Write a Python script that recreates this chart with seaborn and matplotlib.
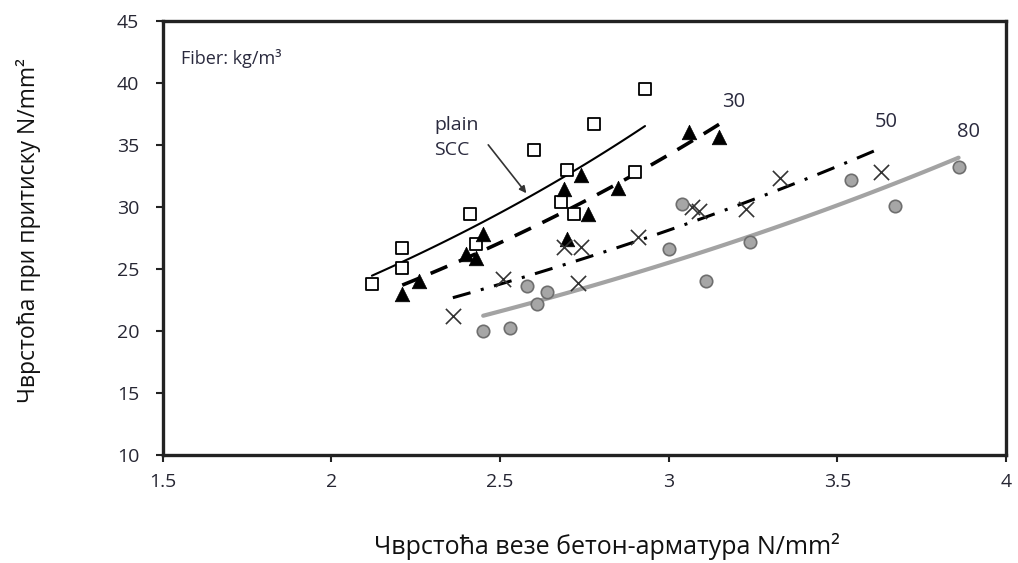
import numpy as np
import pandas as pd
import seaborn as sns
import matplotlib.pyplot as plt

# bond strength (x) vs compressive strength (y)
plain_x = [2.12, 2.21, 2.21, 2.41, 2.43, 2.60, 2.68, 2.70, 2.72, 2.78, 2.90, 2.93]
plain_y = [23.8, 26.7, 25.1, 29.4, 27.0, 34.6, 30.4, 33.0, 29.4, 36.7, 32.8, 39.5]

f30_x = [2.21, 2.26, 2.40, 2.43, 2.45, 2.69, 2.70, 2.74, 2.76, 2.85, 3.06, 3.15]
f30_y = [23.0, 24.0, 26.2, 25.9, 27.8, 31.4, 27.4, 32.6, 29.4, 31.5, 36.0, 35.6]

f50_x = [2.36, 2.51, 2.69, 2.74, 2.73, 2.91, 3.07, 3.09, 3.23, 3.33, 3.63]
f50_y = [21.2, 24.2, 26.8, 26.8, 23.9, 27.6, 30.0, 29.7, 29.8, 32.3, 32.8]

f80_x = [2.45, 2.53, 2.58, 2.61, 2.64, 3.00, 3.04, 3.11, 3.24, 3.54, 3.67, 3.86]
f80_y = [20.0, 20.2, 23.6, 22.2, 23.1, 26.6, 30.2, 24.0, 27.2, 32.2, 30.1, 33.2]

x_ticks = [1.5, 2, 2.5, 3, 3.5, 4]
x_tick_labels = ["1.5", "2", "2.5", "3", "3.5", "4"]
y_ticks = [10, 15, 20, 25, 30, 35, 40, 45]

sns.set_theme(style="ticks")
plt.rcParams['font.family'] = ['Open Sans', 'DejaVu Sans']

fig = plt.figure(figsize=(10.18, 5.63), dpi=100)
ax = fig.add_axes([0.160, 0.192, 0.828, 0.771])


def exp_trend(xs, ys, n=60):
    # Excel-style exponential trendline over the data range
    b, a = np.polyfit(xs, np.log(ys), 1)
    xx = np.linspace(min(xs), max(xs), n)
    return pd.DataFrame({"x": xx, "y": np.exp(a) * np.exp(b * xx)})


# trend lines
t = exp_trend(plain_x, plain_y)
sns.lineplot(data=t, x="x", y="y", ax=ax, color="black", linewidth=1.5)
t = exp_trend(f30_x, f30_y)
sns.lineplot(data=t, x="x", y="y", ax=ax, color="black", linewidth=2.6,
             dashes=False).lines[-1].set_dashes([5, 3.5])
t = exp_trend(f50_x, f50_y)
sns.lineplot(data=t, x="x", y="y", ax=ax, color="black", linewidth=2.2,
             dashes=False).lines[-1].set_dashes([6, 3.5, 1, 3.5])
t = exp_trend(f80_x, f80_y)
sns.lineplot(data=t, x="x", y="y", ax=ax, color="#a3a3a3", linewidth=3)

# points
sns.scatterplot(x=plain_x, y=plain_y, ax=ax, marker="s", s=85,
                facecolor="white", edgecolor="black", linewidth=1.3, zorder=3)
sns.scatterplot(x=f30_x, y=f30_y, ax=ax, marker="^", s=110,
                color="black", edgecolor="black", linewidth=0.5, zorder=3)
sns.scatterplot(x=f50_x, y=f50_y, ax=ax, marker="x", s=120,
                color="#333333", linewidth=1.2, zorder=3)
sns.scatterplot(x=f80_x, y=f80_y, ax=ax, marker="o", s=80,
                facecolor="#a6a6a6", edgecolor="#6e6e6e", linewidth=1.2, zorder=3)

# annotations
txt_col = "#2a2a3e"
ax.text(1.555, 42.0, "Fiber: kg/m³", fontsize=13, color=txt_col, va="center")
ax.text(2.305, 35.6, "plain\nSCC", fontsize=14, color=txt_col,
        va="center", linespacing=1.45)
ax.annotate("", xy=(2.578, 31.1), xytext=(2.465, 35.0),
            arrowprops=dict(arrowstyle="-|>", color="#333333", lw=1.2,
                            mutation_scale=10, shrinkA=0, shrinkB=0))
ax.text(3.194, 38.45, "30", fontsize=14.5, color=txt_col, ha="center", va="center")
ax.text(3.645, 36.85, "50", fontsize=14.5, color=txt_col, ha="center", va="center")
ax.text(3.89, 36.05, "80", fontsize=14.5, color=txt_col, ha="center", va="center")

ax.set_xlim(1.5, 4)
ax.set_ylim(10, 45)
ax.set_xticks(x_ticks)
ax.set_xticklabels(x_tick_labels)
ax.set_yticks(y_ticks)
ax.tick_params(labelsize=14, length=5, width=1.5, color="#222222",
               labelcolor="#262633", pad=8)
ax.tick_params(axis="y", pad=12)
for s in ax.spines.values():
    s.set_linewidth(2.4)
    s.set_color("#222222")

ax.set_xlabel("Чврстоћа везе бетон-арматура N/mm²", fontsize=18, color="#111111")
ax.xaxis.set_label_coords(0.527, -0.18)
ax.set_ylabel("Чврстоћа при притиску N/mm²", fontsize=16.5, color="#111111")
ax.yaxis.set_label_coords(-0.160, 0.516)
ax.yaxis.label.set_va("center")

plt.savefig("out.png", dpi=100)
